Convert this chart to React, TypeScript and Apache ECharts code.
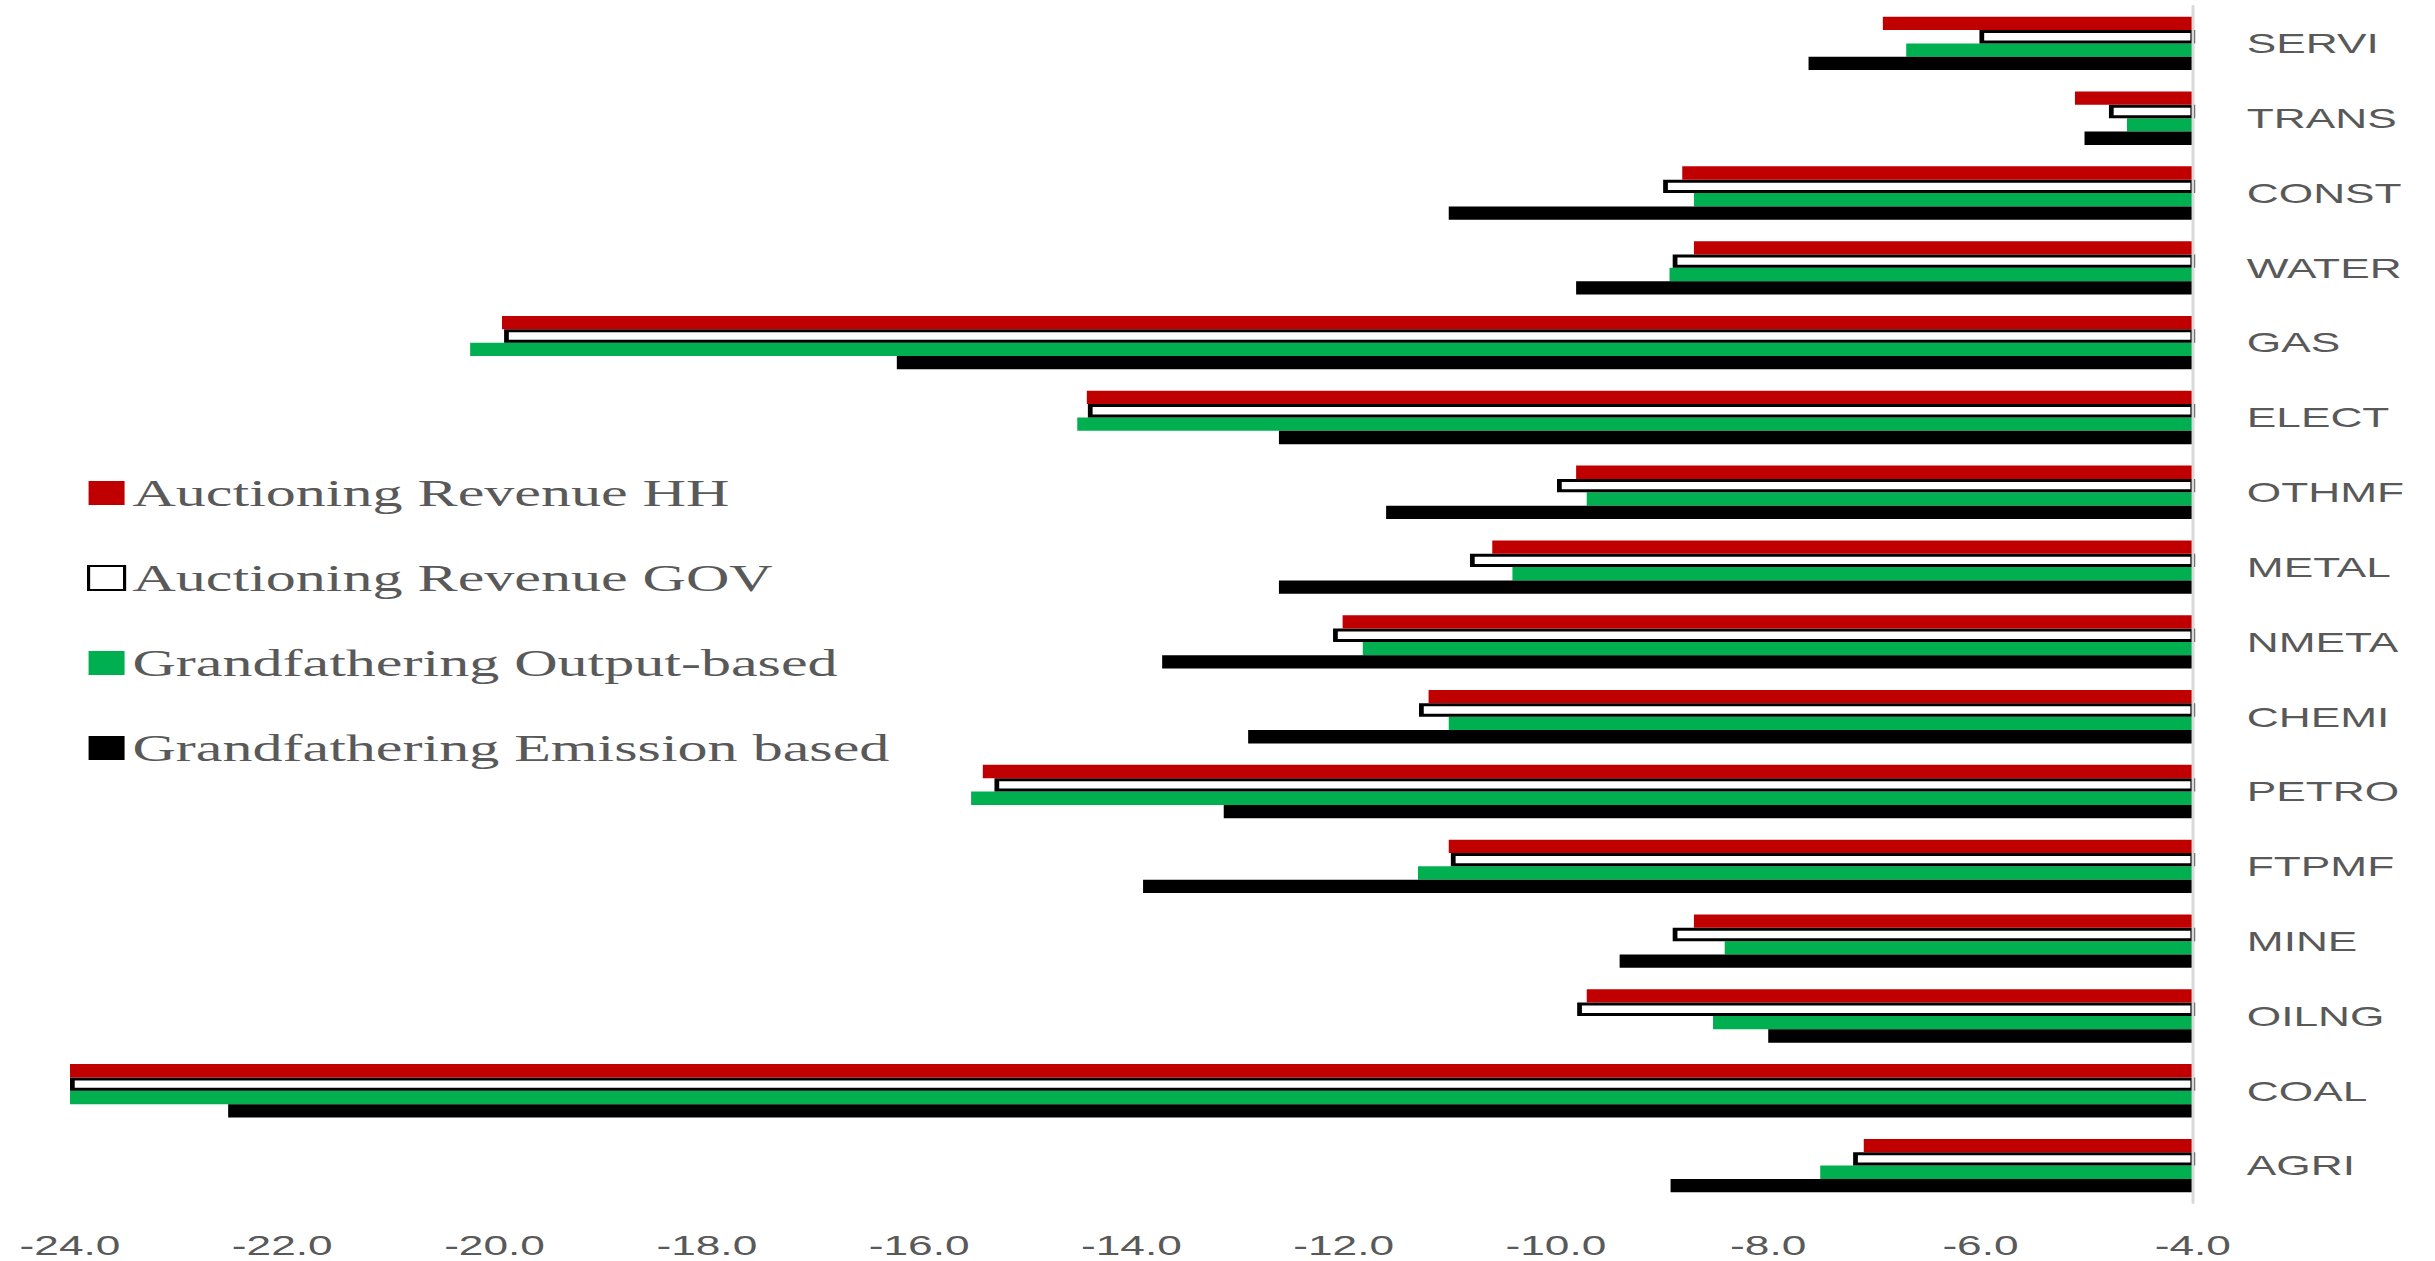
import { useEffect, useRef } from 'react';
import * as echarts from 'echarts';

// ---- data (top-to-bottom as in the picture) ----
const categories = ['SERVI', 'TRANS', 'CONST', 'WATER', 'GAS', 'ELECT', 'OTHMF', 'METAL', 'NMETA', 'CHEMI', 'PETRO', 'FTPMF', 'MINE', 'OILNG', 'COAL', 'AGRI'];
const auctionHH = [-6.92, -5.11, -8.81, -8.70, -19.93, -14.42, -9.81, -10.60, -12.01, -11.20, -15.40, -11.01, -8.70, -9.71, -24.0, -7.10];
const auctionGOV = [-6.01, -4.79, -8.99, -8.90, -19.91, -14.41, -9.99, -10.81, -12.10, -11.29, -15.29, -10.99, -8.90, -9.80, -24.0, -7.20];
const grandOutput = [-6.70, -4.62, -8.70, -8.93, -20.23, -14.51, -9.71, -10.41, -11.82, -11.01, -15.51, -11.30, -8.41, -8.52, -24.0, -7.51];
const grandEmission = [-7.62, -5.02, -11.01, -9.81, -16.21, -12.61, -11.60, -12.61, -13.71, -12.90, -13.13, -13.89, -9.40, -8.00, -22.51, -8.92];
const seriesNames = ['Auctioning Revenue HH', 'Auctioning Revenue GOV', 'Grandfathering Output-based', 'Grandfathering Emission based'];
const xMin = -24;
const xMax = -4;
const xStep = 2;

// ---- layout ----
const W = 2435;
const H = 1261;
const S = 1.58; // horizontal stretch of the reference picture
const CW = W / S;

export default function App() {
  const ref = useRef<HTMLDivElement>(null);
  useEffect(() => {
    if (!ref.current) return;
    const chart = echarts.init(ref.current, undefined, { renderer: 'svg' });
    const textColor = '#595959';
    const gridLeft = 70 / S;
    const gridRight = CW - 2193 / S;
    chart.setOption({
      animation: false,
      backgroundColor: '#ffffff',
      grid: { left: gridLeft, right: gridRight, top: 6, bottom: H - 1203, containLabel: false },
      legend: {
        orient: 'vertical',
        left: 87 / S,
        top: 474,
        padding: 0,
        icon: 'rect',
        itemWidth: 36 / S,
        itemHeight: 24,
        itemGap: 47,
        textStyle: { fontFamily: 'Liberation Serif', fontSize: 38, color: textColor },
        data: seriesNames,
      },
      xAxis: {
        type: 'value',
        min: xMin,
        max: xMax,
        interval: xStep,
        axisLine: { show: false },
        axisTick: { show: false },
        splitLine: { show: false },
        axisLabel: {
          fontFamily: 'Liberation Sans',
          fontSize: 28,
          color: textColor,
          margin: 28,
          formatter: (v: number) => v.toFixed(1),
        },
      },
      yAxis: {
        type: 'category',
        data: categories,
        inverse: true,
        position: 'right',
        z: 10,
        axisLine: { show: true, lineStyle: { color: '#d9d9d9', width: 3 / S } },
        axisTick: { show: false },
        splitLine: { show: false },
        axisLabel: {
          fontFamily: 'Liberation Sans',
          fontSize: 28,
          color: textColor,
          margin: 54 / S,
          align: 'left',
        },
      },
      series: [
        {
          name: seriesNames[0], type: 'bar', data: auctionHH, z: 5, clip: true,
          barCategoryGap: '28.6%', barGap: '0%',
          itemStyle: { color: '#C00000' },
        },
        {
          name: seriesNames[1], type: 'bar', data: auctionGOV, z: 4, clip: true,
          barCategoryGap: '28.6%', barGap: '0%',
          itemStyle: { color: '#ffffff', borderColor: '#000000', borderWidth: 3 },
        },
        {
          name: seriesNames[2], type: 'bar', data: grandOutput, z: 3, clip: true,
          barCategoryGap: '28.6%', barGap: '0%',
          itemStyle: { color: '#00B050' },
        },
        {
          name: seriesNames[3], type: 'bar', data: grandEmission, z: 3, clip: true,
          barCategoryGap: '28.6%', barGap: '0%',
          itemStyle: { color: '#000000' },
        },
      ],
    });
    return () => chart.dispose();
  }, []);
  return (
    <div style={{ position: 'absolute', left: 0, top: 0, width: W, height: H, overflow: 'hidden', background: '#fff' }}>
      <div
        ref={ref}
        style={{ width: CW, height: H, transform: `scaleX(${S})`, transformOrigin: '0 0' }}
      />
    </div>
  );
}
